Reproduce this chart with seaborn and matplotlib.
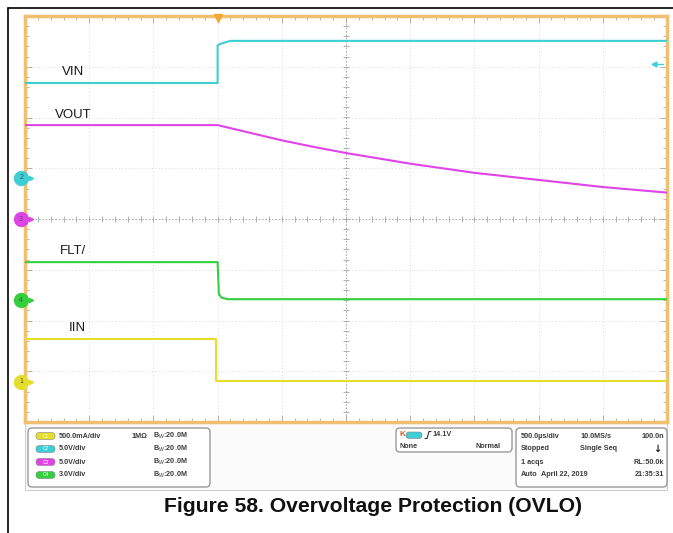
import numpy as np
import pandas as pd
import matplotlib
matplotlib.use("Agg")
import matplotlib.pyplot as plt
import seaborn as sns
from matplotlib.patches import FancyBboxPatch, Rectangle
from matplotlib.transforms import blended_transform_factory

# ---------------- data (time in ms, amplitude in screen divisions) ----------------
t_vin = [-1.5, 0.0, 0.0, 0.02, 0.10, 3.5]
v_vin = [2.68, 2.68, 3.42, 3.45, 3.51, 3.51]
t_vout = [-1.5, 0.0, 0.25, 0.5, 0.75, 1.0, 1.5, 2.0, 2.5, 3.0, 3.5]
v_vout = [1.85, 1.85, 1.70, 1.55, 1.42, 1.30, 1.09, 0.91, 0.77, 0.63, 0.52]
t_flt = [-1.5, 0.0, 0.01, 0.03, 0.08, 3.5]
v_flt = [-0.85, -0.85, -1.48, -1.55, -1.58, -1.58]
t_iin = [-1.5, -0.01, -0.01, 3.5]
v_iin = [-2.36, -2.36, -3.19, -3.19]

trace_names = ["VIN", "VOUT", "FLT/", "IIN"]
trace_colors = ["#3ecfd6", "#e043e6", "#34cf3c", "#e6de2c"]
label_pos = [(-1.215, 2.90), (-1.27, 2.05), (-1.23, -0.63), (-1.16, -2.15)]

ch_numbers = ["2", "3", "4", "1"]
ch_offsets = [0.81, 0.0, -1.60, -3.21]

panel_scales = ["500.0mA/div", "5.0V/div", "5.0V/div", "3.0V/div"]
panel_chan = ["C1", "C2", "C3", "C4"]
panel_colors = ["#e6de2c", "#3ecfd6", "#e043e6", "#34cf3c"]

FONT = ["Liberation Sans", "DejaVu Sans"]
sns.set_style("white")
plt.rcParams["font.family"] = FONT

W, H = 673, 533
fig = plt.figure(figsize=(W / 100, H / 100), dpi=100)
fig.patch.set_facecolor("white")

x0, y0, x1, y1 = 25, 16, 667, 422
ax = fig.add_axes([x0 / W, 1 - y1 / H, (x1 - x0) / W, (y1 - y0) / H])
ax.set_xlim(-1.5, 3.5)
ax.set_ylim(-4, 4)
ax.set_facecolor("white")

# grid
grid_x = np.arange(-1.5, 3.51, 0.5)
grid_y = np.arange(-4, 4.01, 1)
for gx in grid_x[1:-1]:
    ax.axvline(gx, color="#cdcdcd", lw=0.6, ls=(0, (1, 3)), zorder=1)
for gy in grid_y[1:-1]:
    ax.axhline(gy, color="#cdcdcd", lw=0.6, ls=(0, (1, 3)), zorder=1)
ax.axvline(1.0, color="#a5a5a5", lw=0.6, ls=(0, (2, 2)), zorder=1)
ax.axhline(0.0, color="#a5a5a5", lw=0.6, ls=(0, (2, 2)), zorder=1)
ax.plot(np.arange(-1.5, 3.51, 0.1), np.zeros(51), ls="none", marker="|",
        ms=4, mew=0.6, color="#a5a5a5", zorder=1)
ax.plot(np.full(41, 1.0), np.arange(-4, 4.01, 0.2), ls="none", marker="_",
        ms=4, mew=0.6, color="#a5a5a5", zorder=1)

# traces
series = [(t_vin, v_vin), (t_vout, v_vout), (t_flt, v_flt), (t_iin, v_iin)]
for (tt, vv), name, col in zip(series, trace_names, trace_colors):
    df = pd.DataFrame({"t": tt, "v": vv})
    sns.lineplot(data=df, x="t", y="v", ax=ax, color=col, lw=1.5,
                 estimator=None, sort=False, zorder=3)

# trace labels
for name, (lx, ly) in zip(trace_names, label_pos):
    ax.text(lx, ly, name, fontsize=9.5, color="#1a1a1a", ha="left", va="center")

# frame / ticks
for sp in ax.spines.values():
    sp.set_color("#f0c070")
    sp.set_linewidth(2.5)
ax.set_xticks(grid_x)
ax.set_yticks(grid_y)
ax.set_xticks(np.arange(-1.5, 3.51, 0.1), minor=True)
ax.set_yticks(np.arange(-4, 4.01, 0.2), minor=True)
ax.tick_params(which="both", direction="in", top=True, right=True, bottom=True,
               left=True, labelbottom=False, labelleft=False, color="#b8a888")
ax.tick_params(which="major", length=5, width=0.7)
ax.tick_params(which="minor", length=3, width=0.6)
ax.set_xlabel("")
ax.set_ylabel("")

# trigger position marker (top) and trigger level marker (right)
ax.plot([0.0], [3.97], marker="v", ms=5.5, color="#f0a830", clip_on=False, zorder=6)
ax.plot([3.40], [3.05], marker="<", ms=3.5, color="#3ecfd6", zorder=6)
ax.plot([3.40, 3.47], [3.05, 3.05], color="#3ecfd6", lw=1, zorder=6)

# channel ground markers on left
bt = blended_transform_factory(ax.transAxes, ax.transData)
for num, off, col in zip(ch_numbers, ch_offsets, trace_colors):
    ax.plot([-0.006], [off], transform=bt, marker="o", ms=10, color=col,
            mec=col, clip_on=False, zorder=7)
    ax.text(-0.006, off, num, transform=bt, fontsize=5, ha="center", va="center",
            color="#505050", zorder=8)
    ax.plot([0.009], [off], transform=bt, marker=">", ms=3, color=col,
            clip_on=False, zorder=7)

# ---------------- overlay for panel, frame and caption ----------------
ov = fig.add_axes([0, 0, 1, 1], zorder=-1)
ov.set_xlim(0, W)
ov.set_ylim(H, 0)
ov.axis("off")

ov.plot([8, 8], [8, H], color="black", lw=1.2)
ov.plot([8, W], [8, 8], color="black", lw=1.2)

ov.add_patch(Rectangle((25, 423), 642, 67, fc="#fbfbfb", ec="#d0d0d0", lw=0.8))

def box(x, y, w, h):
    ov.add_patch(FancyBboxPatch((x, y), w, h, boxstyle="round,pad=0,rounding_size=4",
                                fc="white", ec="#9a9a9a", lw=1.0))

txtkw = dict(fontsize=5.2, color="#3a3a3a", fontweight="bold", va="center")

box(28, 428, 182, 59)
rows = [436, 449, 462, 475]
for ry, sc, ch, col in zip(rows, panel_scales, panel_chan, panel_colors):
    ov.add_patch(FancyBboxPatch((36, ry - 3.5), 19, 7, boxstyle="round,pad=0,rounding_size=3.5",
                                fc=col, ec="#808080", lw=0.4))
    ov.text(45.5, ry, ch, fontsize=3.5, color="white", ha="center", va="center")
    ov.text(59, ry, sc, **txtkw)
    ov.text(153, ry, "B$_W$:20.0M", **txtkw)
ov.text(131, rows[0], "1MΩ", **txtkw)

box(396, 428, 116, 24)
ov.text(399, 435, "K", fontsize=6, color="#d06020", fontweight="bold", va="center")
ov.add_patch(FancyBboxPatch((406, 432), 16, 6.5, boxstyle="round,pad=0,rounding_size=3.2",
                            fc="#3ecfd6", ec="#808080", lw=0.4))
ov.plot([425, 427, 429, 431], [438.5, 438.5, 431.5, 431.5], color="#303030", lw=0.8)
ov.text(432, 435, "14.1V", **txtkw)
ov.text(399, 446, "None", **txtkw)
ov.text(501, 446, "Normal", ha="right", **txtkw)

box(516, 428, 151, 59)
ov.text(521, rows[0], "500.0µs/div", **txtkw)
ov.text(580, rows[0], "10.0MS/s", **txtkw)
ov.text(664, rows[0], "100.0n", ha="right", **txtkw)
ov.text(521, rows[1], "Stopped", **txtkw)
ov.text(580, rows[1], "Single Seq", **txtkw)
ov.text(653, rows[1], "↓", fontsize=7, color="#202020", fontweight="bold", va="center",
        family=["DejaVu Sans"])
ov.text(521, rows[2], "1 acqs", **txtkw)
ov.text(664, rows[2], "RL:50.0k", ha="right", **txtkw)
ov.text(521, rows[3], "Auto", **txtkw)
ov.text(541, rows[3], "April 22, 2019", **txtkw)
ov.text(664, rows[3], "21:35:31", ha="right", **txtkw)

fig.text(373 / W, 1 - 507 / H, "Figure 58. Overvoltage Protection (OVLO)",
         ha="center", va="center", fontsize=15.2, fontweight="bold", color="#111111")

fig.savefig("out.png", dpi=100, facecolor="white")
